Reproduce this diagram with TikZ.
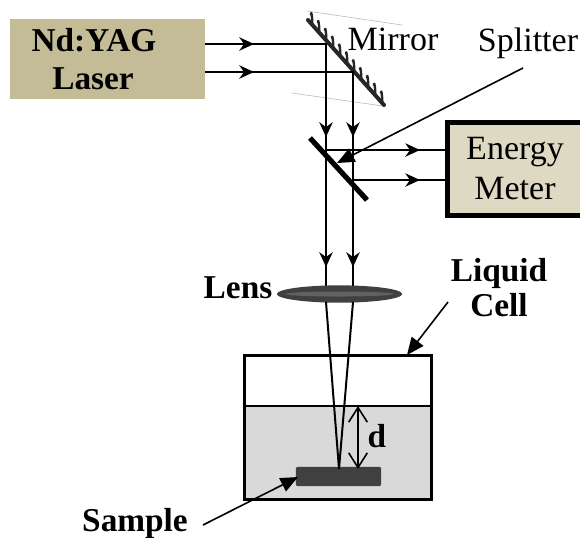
\documentclass[tikz,border=0pt]{standalone}
\usepackage{fontspec}
\setmainfont{Liberation Serif}
\usetikzlibrary{arrows.meta,shapes.geometric}
\definecolor{laserfill}{HTML}{C4BC96}
\definecolor{meterfill}{HTML}{DDD9C3}
\definecolor{waterfill}{HTML}{D9D9D9}
\definecolor{darkfill}{HTML}{404040}
\tikzset{
  beam/.style={line width=1.5pt},
  midhead/.style={-{Stealth[length=11pt,width=10pt,inset=3.5pt]}},
  pointer/.style={line width=1.2pt,-{Stealth[length=13pt,width=11pt,inset=0pt]}},
  plain/.style={font=\fontsize{25.5}{28}\selectfont,inner sep=0pt},
  bold/.style={font=\fontsize{25}{28}\selectfont\bfseries,inner sep=0pt}
}
\begin{document}
\begin{tikzpicture}[x=0.75pt,y=-0.75pt]
\useasboundingbox (0,0) rectangle (580,537);
% coordinates
\coordinate (m1) at (326,44); \coordinate (m2) at (353,72);
\coordinate (s1t) at (326,137); \coordinate (s2t) at (353,137);
\coordinate (s1) at (326,150); \coordinate (s2) at (353,180);
\coordinate (a1) at (326,267); \coordinate (a2) at (353,267);
\coordinate (l1) at (326,290); \coordinate (l2) at (353,290);
\coordinate (f) at (339,469);
\coordinate (q1) at (326,302); \coordinate (q2) at (353,302);
\coordinate (da) at (358,406); \coordinate (db) at (358,469);
\coordinate (h1) at (254,44); \coordinate (h2) at (254,72);
\coordinate (e1) at (420,150); \coordinate (e2) at (420,180);
\coordinate (splitfrom) at (523,68); \coordinate (splitto) at (337,163);
\coordinate (cellfrom) at (448,302); \coordinate (cellto) at (407,355);
\coordinate (samplefrom) at (203,525); \coordinate (sampleto) at (298,477);
% boxes
\node[fill=laserfill,minimum width=146.25pt,minimum height=60pt,inner sep=0pt] (laser) at (107.5,59) {};
\node[bold] (nd) at (94,40) {Nd:YAG};
\node[bold] (las) at (93,79) {Laser};
\node[draw=black,line width=3.6pt,fill=meterfill,minimum width=101pt,minimum height=69.5pt,inner sep=0pt] (meter) at (515,169) {};
\node[plain] (en) at (515,152) {Energy};
\node[plain] (me) at (515,189) {Meter};
% cell
\fill[waterfill] (245,406) rectangle (431,499);
\draw[line width=1.2pt] (245,406) -- (431,406);
\node[draw=black,line width=2.7pt,minimum width=140pt,minimum height=108pt,inner sep=0pt] (cell) at (338,427.5) {};
\node[fill=darkfill,rounded corners=1.5pt,minimum width=64pt,minimum height=14.5pt,inner sep=0pt] (sample) at (338.5,476.5) {};
% mirror faint lines
\draw[gray!60,line width=0.4pt] (307,11) -- (402,25);
\draw[gray!60,line width=0.4pt] (292,93) -- (383,106);
% mirror
\draw[line width=3pt,black!85,line cap=round] (308,20) -- (384,105);
\foreach \t in {0,...,10}{
  \draw[line width=1.8pt,black!85] ({312+\t*7},{25+\t*7.85}) .. controls +(1,-4) and +(0,-6) .. ++(-1,-10);
}
% beams
\draw[beam] (laser.east |- m1) -- (m1) -- (l1);
\draw[beam] (laser.east |- m2) -- (m2) -- (l2);
\draw[beam,midhead] (laser.east |- m1) -- (h1);
\draw[beam,midhead] (laser.east |- m2) -- (h2);
\draw[beam,midhead] (m1) -- (s1t);
\draw[beam,midhead] (m2) -- (s2t);
\draw[beam,midhead] (s1t) -- (a1);
\draw[beam,midhead] (s2t) -- (a2);
\draw[line width=1.2pt] (s1) -- (meter.west |- s1);
\draw[line width=1.2pt] (s2) -- (meter.west |- s2);
\draw[line width=1.2pt,midhead] (s1) -- (e1);
\draw[line width=1.2pt,midhead] (s2) -- (e2);
% splitter
\draw[line width=3.9pt] (310,138) -- (367,200);
% lens
\node[ellipse,fill=darkfill,minimum width=94pt,minimum height=13pt,inner sep=0pt] (lens) at (339.5,294) {};
\fill[black!62] (lens.center) ellipse[x radius=54,y radius=2.5];
% focus
\draw[beam] (q1) -- (f);
\draw[beam] (q2) -- (f);
% d
\draw[line width=1.2pt,{Straight Barb[length=11pt,width=14pt]}-{Straight Barb[length=11pt,width=14pt]}] (da) -- (db);
% pointers
\draw[pointer] (splitfrom) -- (splitto);
\draw[pointer] (cellfrom) -- (cellto);
\draw[pointer] (samplefrom) -- (sampleto);
% labels
\node[plain] (mirror) at (393,39) {Mirror};
\node[plain] (splitter) at (528,43) {Splitter};
\node[bold] (lenslabel) at (238,288) {Lens};
\node[bold] (liquid) at (499,273) {Liquid};
\node[bold] (celllabel) at (499,305) {Cell};
\node[bold] (dlabel) at (377,436) {d};
\node[bold] (samplelabel) at (135,523) {Sample};
\end{tikzpicture}
\end{document}
